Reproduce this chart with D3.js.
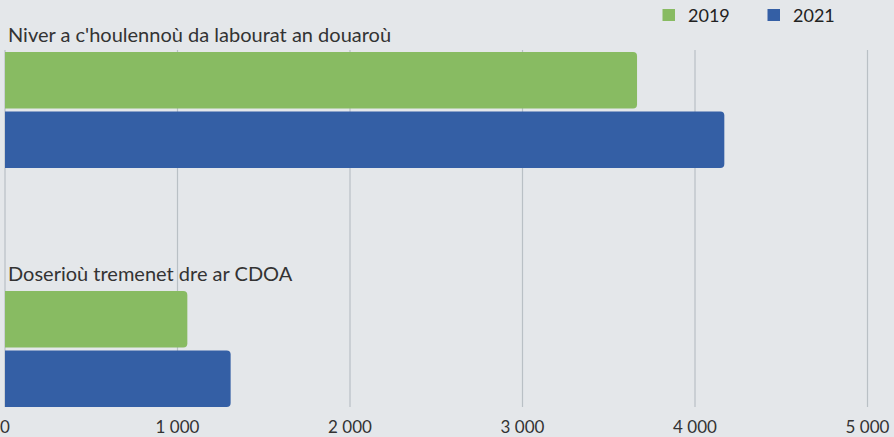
<!DOCTYPE html>
<html>
<head>
<meta charset="utf-8">
<script src="https://d3js.org/d3.v7.min.js"></script>
<style>
  body { margin: 0; background: #e4e7ea; }
  svg { display: block; font-family: Lato, "Open Sans", sans-serif; }
</style>
</head>
<body>
<svg id="chart" width="894" height="437"></svg>
<script>
// data
var categories = ["Niver a c'houlennoù da labourat an douaroù", "Doserioù tremenet dre ar CDOA"];
var series = ["2019", "2021"];
var values2019 = [3664, 1057];
var values2021 = [4170, 1308];
var ticks = [0, 1000, 2000, 3000, 4000, 5000];
var colors = {"2019": "#88bb62", "2021": "#345fa5"};

var rows = categories.map(function(c, i) {
  return {cat: c, vals: [{s: "2019", v: values2019[i]}, {s: "2021", v: values2021[i]}]};
});

var svg = d3.select("#chart");
svg.append("rect").attr("width", 894).attr("height", 437).attr("fill", "#e4e7ea");

var x = d3.scaleLinear().domain([0, 5000]).range([5, 867.5]);
var y0 = d3.scaleBand().domain(categories).range([52, 407]).paddingInner(0.515).paddingOuter(0);
var y1 = d3.scaleBand().domain(series).range([0, y0.bandwidth()]).paddingInner(0.05);

var fr = d3.formatLocale({decimal: ",", thousands: " ", grouping: [3], currency: ["", ""]});
var fmt = fr.format(",d");

// gridlines
svg.append("g").selectAll("line").data(ticks).enter().append("line")
  .attr("x1", function(d) { return x(d); })
  .attr("x2", function(d) { return x(d); })
  .attr("y1", 50).attr("y2", 407)
  .attr("stroke", "#b9c0c5").attr("stroke-width", 1.2);

// tick labels
svg.append("g").selectAll("text").data(ticks).enter().append("text")
  .attr("x", function(d) { return x(d); })
  .attr("y", 433)
  .attr("text-anchor", "middle")
  .attr("font-size", "17px")
  .attr("fill", "#333")
  .text(function(d) { return fmt(d); });

// rounded right end only
function barPath(x0, yy, w, h, r) {
  return "M" + x0 + "," + yy + "H" + (x0 + w - r) +
    "Q" + (x0 + w) + "," + yy + " " + (x0 + w) + "," + (yy + r) +
    "V" + (yy + h - r) +
    "Q" + (x0 + w) + "," + (yy + h) + " " + (x0 + w - r) + "," + (yy + h) +
    "H" + x0 + "Z";
}

var groups = svg.selectAll(".grp").data(rows).enter().append("g")
  .attr("class", "grp")
  .attr("transform", function(d) { return "translate(0," + y0(d.cat) + ")"; });

groups.append("text")
  .attr("x", 8).attr("y", -10.5)
  .attr("font-size", "20px")
  .attr("fill", "#333")
  .text(function(d) { return d.cat; });

groups.selectAll("path").data(function(d) { return d.vals; }).enter().append("path")
  .attr("d", function(d) { return barPath(x(0), y1(d.s), x(d.v) - x(0), y1.bandwidth(), 4); })
  .attr("fill", function(d) { return colors[d.s]; });

// legend
var legX = [662.5, 767.5];
var leg = svg.selectAll(".leg").data(series).enter().append("g")
  .attr("class", "leg")
  .attr("transform", function(d, i) { return "translate(" + legX[i] + ",9)"; });
leg.append("rect").attr("width", 12.5).attr("height", 12).attr("fill", function(d) { return colors[d]; });
leg.append("text").attr("x", 25.5).attr("y", 12.8)
  .attr("font-size", "18px").attr("fill", "#222")
  .text(function(d) { return d; });
</script>
</body>
</html>
